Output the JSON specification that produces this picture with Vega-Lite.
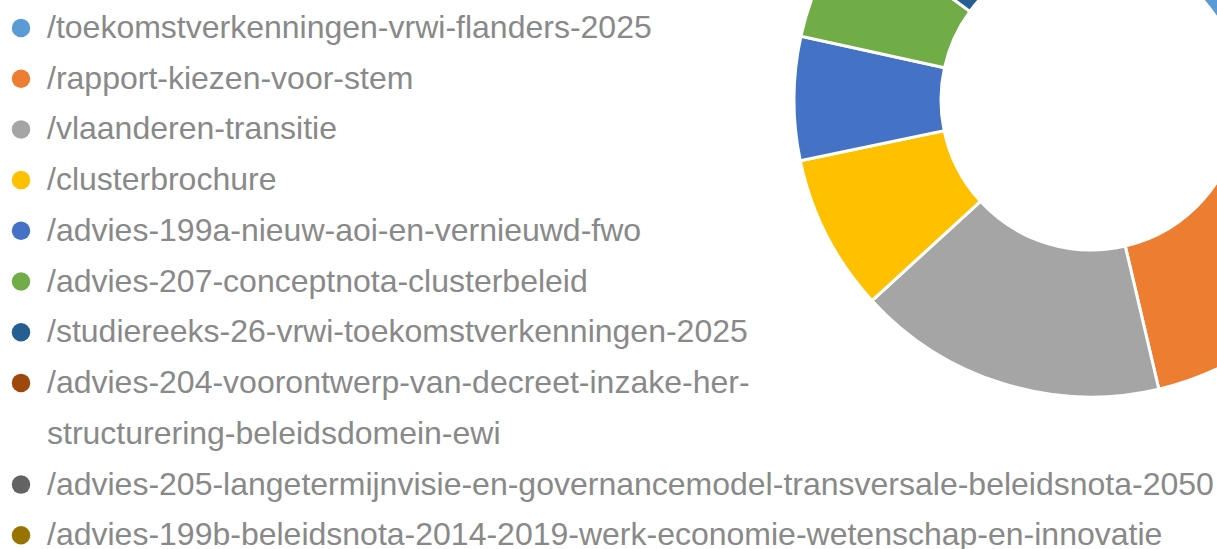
{
  "$schema": "https://vega.github.io/schema/vega-lite/v6.json",
  "width": 252,
  "height": 200,
  "autosize": {"type": "none"},
  "padding": {"left": 965, "top": 0, "right": 0, "bottom": 349},
  "background": "white",
  "config": {
    "view": {"stroke": null},
    "style": {"guide-label": {"lineHeight": 50.7}}
  },
  "data": {
    "values": [
      {"page": "/toekomstverkenningen-vrwi-flanders-2025", "views": 950},
      {"page": "/rapport-kiezen-voor-stem", "views": 718},
      {"page": "/vlaanderen-transitie", "views": 607},
      {"page": "/clusterbrochure", "views": 307},
      {"page": "/advies-199a-nieuw-aoi-en-vernieuwd-fwo", "views": 242},
      {"page": "/advies-207-conceptnota-clusterbeleid", "views": 238},
      {"page": "/studiereeks-26-vrwi-toekomstverkenningen-2025", "views": 180},
      {"page": "/advies-204-voorontwerp-van-decreet-inzake-her-structurering-beleidsdomein-ewi", "views": 140},
      {"page": "/advies-205-langetermijnvisie-en-governancemodel-transversale-beleidsnota-2050", "views": 120},
      {"page": "/advies-199b-beleidsnota-2014-2019-werk-economie-wetenschap-en-innovatie", "views": 98}
    ]
  },
  "mark": {"type": "arc", "radius": 297, "innerRadius": 150, "stroke": "white", "strokeWidth": 3},
  "encoding": {
    "theta": {"field": "views", "type": "quantitative", "stack": true},
    "order": {"field": "views", "sort": "descending"},
    "color": {
      "field": "page",
      "type": "nominal",
      "scale": {
        "domain": [
          "/toekomstverkenningen-vrwi-flanders-2025",
          "/rapport-kiezen-voor-stem",
          "/vlaanderen-transitie",
          "/clusterbrochure",
          "/advies-199a-nieuw-aoi-en-vernieuwd-fwo",
          "/advies-207-conceptnota-clusterbeleid",
          "/studiereeks-26-vrwi-toekomstverkenningen-2025",
          "/advies-204-voorontwerp-van-decreet-inzake-her-structurering-beleidsdomein-ewi",
          "/advies-205-langetermijnvisie-en-governancemodel-transversale-beleidsnota-2050",
          "/advies-199b-beleidsnota-2014-2019-werk-economie-wetenschap-en-innovatie"
        ],
        "range": ["#5B9BD5", "#ED7D31", "#A5A5A5", "#FFC000", "#4472C4", "#70AD47", "#255E91", "#9E480E", "#636363", "#997300"]
      },
      "legend": {
        "orient": "none",
        "legendX": -960,
        "legendY": 12,
        "direction": "vertical",
        "title": null,
        "labelFont": "Liberation Sans",
        "labelFontSize": 32,
        "labelColor": "#898989",
        "labelLimit": 3000,
        "labelOffset": 10,
        "symbolType": "circle",
        "symbolSize": 342,
        "symbolStrokeWidth": 0,
        "rowPadding": 18.7,
        "labelExpr": "datum.label == '/advies-204-voorontwerp-van-decreet-inzake-her-structurering-beleidsdomein-ewi' ? ['/advies-204-voorontwerp-van-decreet-inzake-her-', 'structurering-beleidsdomein-ewi'] : datum.label"
      }
    }
  }
}
